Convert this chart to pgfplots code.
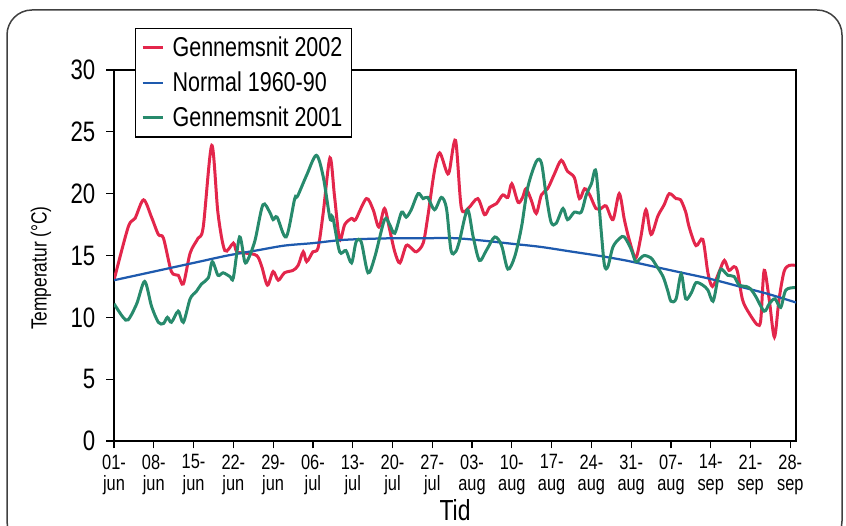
\documentclass[border=0pt]{standalone}
\usepackage{pgfplots}
\pgfplotsset{compat=1.18}
\usepackage{fontspec}
\setmainfont{Liberation Sans}[FakeStretch=0.79]
\definecolor{c2002}{HTML}{E3264B}
\definecolor{cnorm}{HTML}{1E5AAE}
\definecolor{c2001}{HTML}{278A6C}

\begin{document}
\begin{tikzpicture}
\useasboundingbox (0,0) rectangle (16.92,10.52);
\draw[rounded corners=0.5cm, line width=0.03cm, black!75] (0.14,-0.4) rectangle (16.84,10.32);
\begin{axis}[
  at={(2.28cm,1.70cm)}, anchor=south west,
  scale only axis, width=13.64cm, height=7.42cm,
  xmin=0, xmax=120, ymin=0, ymax=30,
  xtick={0,7,...,119}, ytick={0,5,...,30},
  xticklabels={{01-\\jun},{08-\\jun},{15-\\jun},{22-\\jun},{29-\\jun},{06-\\jul},{13-\\jul},{20-\\jul},{27-\\jul},{03-\\aug},{10-\\aug},{17-\\aug},{24-\\aug},{31-\\aug},{07-\\aug},{14-\\sep},{21-\\sep},{28-\\sep}},
  tick align=outside, xtick pos=bottom, ytick pos=left,
  major tick length=0.15cm,
  axis line style={line width=0.025cm},
  every tick/.style={black, line width=0.025cm},
  /pgf/number format/assume math mode=true,
  yticklabel style={font=\fontsize{16}{16}\selectfont, xshift=-0.1cm},
  xticklabel style={font=\fontsize{11.8}{12.2}\selectfont, align=center},
  xlabel={Tid}, ylabel={Temperatur (°C)},
  xlabel style={font=\fontsize{16.5}{16.5}\selectfont, at={(axis description cs:0.5,0)}, anchor=center, yshift=-1.38cm},
  ylabel style={font=\fontsize{12.5}{12.5}\selectfont, at={(axis description cs:0,0.466)}, anchor=center, yshift=1.46cm},
  legend style={at={(0.031,1.113)}, anchor=north west, draw=black, line width=0.025cm, fill=white,
    font=\fontsize{15.5}{16}\selectfont, row sep=3.2pt, inner xsep=3pt, inner ysep=2.5pt},
  legend cell align=left,
  legend image code/.code={\draw[#1] (0cm,0cm) -- (0.4cm,0cm); \path (0.5cm,0cm);},
]
\addplot[c2002, line width=0.06cm, smooth, tension=0.5] coordinates {
(0,13.0) (2.5,17.3) (3.7,18.0) (5.2,19.5) (6.6,18.1) (7.8,16.7) (8.7,16.4) (10.1,13.7)
(11.3,13.4) (12.2,12.7) (13.4,15.2) (14.8,16.4) (15.7,17.3) (17.2,23.9) (18.3,18.4) (19.5,15.4)
(21.0,16.0) (21.6,15.3) (23.0,15.2) (25.1,15.0) (26.0,14.1) (27.0,12.6) (28.0,13.7) (28.9,13.0)
(30.0,13.6) (31.5,13.8) (32.4,14.2) (33.3,15.3) (33.9,14.5) (35.0,15.3) (35.9,15.6) (36.8,18.4)
(38.0,22.9) (38.8,19.8) (39.7,16.3) (40.6,17.5) (41.8,18.0) (42.5,17.9) (44.4,19.6) (45.6,18.7)
(46.6,17.3) (47.6,18.8) (48.5,17.1) (49.4,15.3) (50.3,14.4) (51.4,15.8) (52.3,15.6) (53.2,15.3)
(54.4,16.0) (55.2,18.1) (56.4,21.9) (57.3,23.3) (58.5,21.8) (59.0,21.8) (60.1,24.3) (61.1,18.9)
(62.3,18.8) (64.0,19.6) (65.2,18.3) (66.1,18.9) (67.3,19.2) (68.4,19.9) (69.3,19.7) (70.0,20.8)
(71.1,19.3) (71.9,19.7) (72.5,20.4) (73.4,19.5) (74.3,18.4) (75.2,19.9) (76.3,20.4) (77.5,21.6)
(78.7,22.7) (79.8,21.8) (81.0,21.3) (81.9,19.6) (82.8,20.4) (83.7,19.9) (84.8,18.8) (85.7,18.8)
(86.6,19.0) (87.8,17.9) (88.9,20.0) (89.8,17.9) (90.7,16.2) (91.8,14.8) (92.7,16.5) (93.6,18.7)
(94.5,16.7) (95.7,18.2) (96.8,19.1) (97.7,20.0) (98.9,19.6) (99.7,19.5) (100.6,18.5) (101.2,17.3)
(102.4,15.8) (103.6,16.3) (104.5,13.6) (105.3,12.5) (106.5,13.7) (107.4,14.6) (108.2,13.8) (109.1,14.1)
(109.7,13.7) (110.6,11.4) (111.8,10.3) (113.2,9.4) (113.8,9.8) (114.4,13.8) (115.3,11.4) (116.2,8.4)
(117.0,11.4) (117.9,13.7) (118.8,14.2) (119.8,14.2)
};
\addlegendentry{Gennemsnit 2002\hspace{9pt}}
\addplot[cnorm, line width=0.045cm, smooth] coordinates {
(0,13.0) (5,13.5) (10,14.0) (15,14.5) (20,15.0) (25,15.4) (30,15.8) (35,16.0) (40,16.25)
(45,16.35) (50,16.4) (55,16.4) (60,16.4) (65,16.2) (70,15.95) (75,15.7) (80,15.35) (85,15.0)
(90,14.6) (95,14.1) (100,13.6) (105,13.1) (110,12.5) (115,11.9) (120,11.2)
};
\addlegendentry{Normal 1960-90}
\addplot[c2001, line width=0.06cm, smooth, tension=0.5] coordinates {
(0,11.1) (1.6,10.0) (2.5,9.8) (4.0,11.1) (5.4,12.9) (6.6,10.9) (7.8,9.6) (8.7,9.5)
(9.4,10.0) (10.1,9.6) (11.3,10.5) (12.2,9.6) (13.4,11.5) (14.5,12.1) (15.4,12.7) (16.6,13.2)
(17.3,14.5) (18.3,13.4) (19.2,13.6) (20.4,13.3) (21.0,13.2) (22.1,16.5) (23.0,14.5) (23.6,14.7)
(24.8,16.2) (26.2,19.1) (27.4,18.5) (28.0,17.9) (28.7,18.1) (30.3,16.5) (31.8,19.6) (32.3,19.8)
(33.9,21.5) (35.6,23.1) (36.8,21.4) (38.0,18.0) (38.5,18.1) (39.7,15.3) (40.8,15.4) (41.8,14.4)
(42.6,16.1) (43.5,16.1) (44.7,13.6) (45.9,14.9) (47.6,17.9) (48.5,17.5) (49.4,16.8) (50.6,18.5)
(51.4,18.1) (52.3,18.7) (53.5,20.0) (54.4,19.6) (55.2,19.7) (56.4,18.7) (57.6,19.7) (58.5,18.8)
(59.3,15.4) (60.1,15.3) (60.8,16.2) (62.2,18.7) (63.2,16.5) (64.3,14.6) (65.5,15.4) (67.0,16.5)
(68.2,15.8) (69.3,13.9) (70.5,14.9) (71.7,17.3) (72.8,20.5) (74.3,22.6) (75.2,22.5) (76.0,20.0)
(76.9,17.7) (77.8,17.6) (79.0,18.8) (79.8,17.9) (81.0,18.5) (82.2,18.5) (83.1,19.9) (84.0,20.8)
(84.8,21.8) (85.7,17.1) (86.3,14.2) (86.9,14.1) (87.8,15.7) (89.0,16.4) (89.8,16.5) (91.0,15.5)
(91.8,14.5) (92.7,14.8) (93.3,15.0) (94.5,14.8) (95.4,14.2) (96.6,13.3) (97.4,12.2) (98.0,11.3)
(98.9,11.5) (99.8,13.5) (100.6,11.5) (101.6,12.0) (102.4,12.8) (103.6,12.6) (104.5,12.2) (105.4,11.3)
(106.2,13.0) (106.8,13.9) (108.0,13.4) (109.1,13.3) (110.0,12.6) (111.2,12.5) (112.0,12.3) (112.9,11.7)
(114.4,10.5) (115.3,11.1) (116.3,11.5) (117.3,10.8) (118.2,12.2) (119.8,12.4)
};
\addlegendentry{Gennemsnit 2001}
\end{axis}
\end{tikzpicture}
\end{document}
